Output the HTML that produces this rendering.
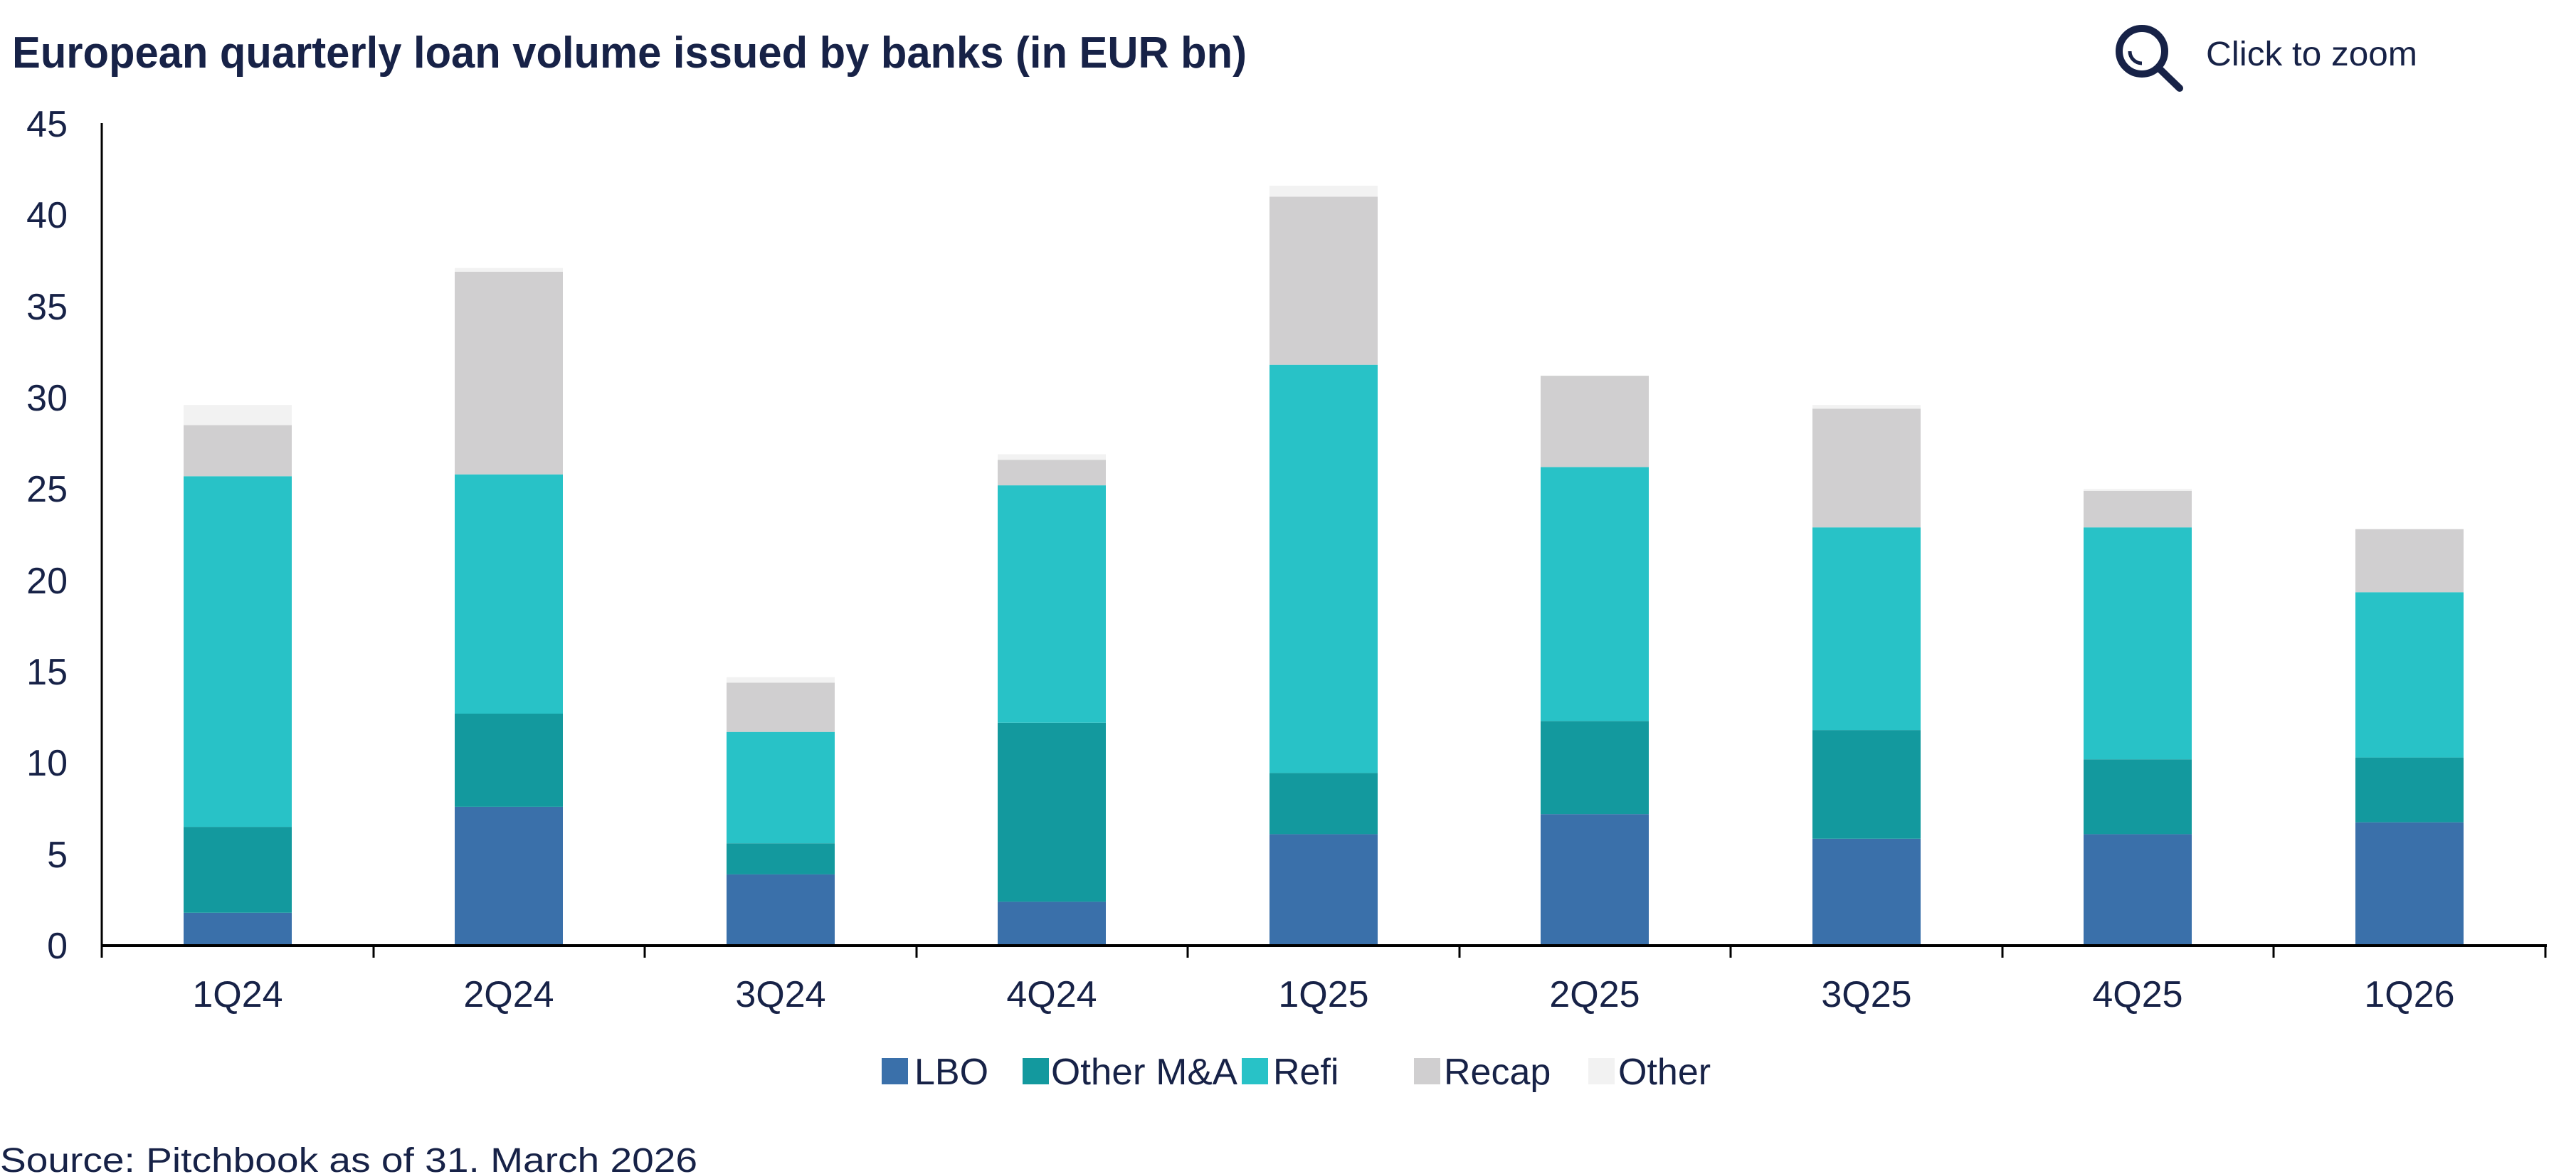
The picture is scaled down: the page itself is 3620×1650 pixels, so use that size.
<!DOCTYPE html>
<html><head><meta charset="utf-8"><style>
html,body{margin:0;padding:0;background:#fff;}
svg{display:block;font-family:"Liberation Sans",sans-serif;}
</style></head><body>
<svg width="3620" height="1650" viewBox="0 0 3620 1650" xmlns="http://www.w3.org/2000/svg">
<text x="17" y="95" font-size="62" font-weight="bold" fill="#172247" textLength="1735" lengthAdjust="spacingAndGlyphs">European quarterly loan volume issued by banks (in EUR bn)</text>
<g fill="none" stroke="#172247" stroke-width="10" stroke-linecap="round">
<circle cx="3010" cy="72" r="32"/>
<line x1="3035" y1="97" x2="3063" y2="124"/>
</g>
<path d="M2993 72 a17 17 0 0 0 17 17" fill="none" stroke="#172247" stroke-width="5"/>
<text x="3100" y="92" font-size="48" fill="#172247" textLength="297" lengthAdjust="spacingAndGlyphs">Click to zoom</text>
<g font-size="52" fill="#172247" text-anchor="end">
<text x="95" y="192">45</text><text x="95" y="320">40</text><text x="95" y="449">35</text>
<text x="95" y="577">30</text><text x="95" y="705">25</text><text x="95" y="834">20</text>
<text x="95" y="962">15</text><text x="95" y="1090">10</text><text x="95" y="1219">5</text>
<text x="95" y="1347">0</text>
</g>
<g>
<rect x="258" y="1282.8" width="152" height="46.2" fill="#3A70AA"/>
<rect x="258" y="1162.1" width="152" height="120.7" fill="#13999E"/>
<rect x="258" y="669.3" width="152" height="492.8" fill="#28C2C7"/>
<rect x="258" y="597.4" width="152" height="71.9" fill="#D0CFD0"/>
<rect x="258" y="569.2" width="152" height="28.2" fill="#F2F2F2"/>

<rect x="639" y="1133.9" width="152" height="195.1" fill="#3A70AA"/>
<rect x="639" y="1003.0" width="152" height="130.9" fill="#13999E"/>
<rect x="639" y="666.7" width="152" height="336.3" fill="#28C2C7"/>
<rect x="639" y="381.8" width="152" height="284.9" fill="#D0CFD0"/>
<rect x="639" y="376.6" width="152" height="5.2" fill="#F2F2F2"/>

<rect x="1021" y="1228.9" width="152" height="100.1" fill="#3A70AA"/>
<rect x="1021" y="1185.2" width="152" height="43.7" fill="#13999E"/>
<rect x="1021" y="1028.7" width="152" height="156.5" fill="#28C2C7"/>
<rect x="1021" y="959.4" width="152" height="69.3" fill="#D0CFD0"/>
<rect x="1021" y="951.7" width="152" height="7.7" fill="#F2F2F2"/>

<rect x="1402" y="1267.4" width="152" height="61.6" fill="#3A70AA"/>
<rect x="1402" y="1015.8" width="152" height="251.6" fill="#13999E"/>
<rect x="1402" y="682.1" width="152" height="333.7" fill="#28C2C7"/>
<rect x="1402" y="646.2" width="152" height="35.9" fill="#D0CFD0"/>
<rect x="1402" y="638.5" width="152" height="7.7" fill="#F2F2F2"/>

<rect x="1784" y="1172.4" width="152" height="156.6" fill="#3A70AA"/>
<rect x="1784" y="1086.4" width="152" height="86.0" fill="#13999E"/>
<rect x="1784" y="512.7" width="152" height="573.7" fill="#28C2C7"/>
<rect x="1784" y="276.5" width="152" height="236.2" fill="#D0CFD0"/>
<rect x="1784" y="261.1" width="152" height="15.4" fill="#F2F2F2"/>

<rect x="2165" y="1144.2" width="152" height="184.8" fill="#3A70AA"/>
<rect x="2165" y="1013.3" width="152" height="130.9" fill="#13999E"/>
<rect x="2165" y="656.4" width="152" height="356.9" fill="#28C2C7"/>
<rect x="2165" y="528.1" width="152" height="128.3" fill="#D0CFD0"/>

<rect x="2547" y="1178.8" width="152" height="150.2" fill="#3A70AA"/>
<rect x="2547" y="1026.1" width="152" height="152.7" fill="#13999E"/>
<rect x="2547" y="741.2" width="152" height="284.9" fill="#28C2C7"/>
<rect x="2547" y="574.3" width="152" height="166.9" fill="#D0CFD0"/>
<rect x="2547" y="569.2" width="152" height="5.1" fill="#F2F2F2"/>

<rect x="2928" y="1172.4" width="152" height="156.6" fill="#3A70AA"/>
<rect x="2928" y="1067.2" width="152" height="105.2" fill="#13999E"/>
<rect x="2928" y="741.2" width="152" height="326.0" fill="#28C2C7"/>
<rect x="2928" y="689.8" width="152" height="51.4" fill="#D0CFD0"/>
<rect x="2928" y="687.3" width="152" height="2.5" fill="#F2F2F2"/>

<rect x="3310" y="1155.7" width="152" height="173.3" fill="#3A70AA"/>
<rect x="3310" y="1064.6" width="152" height="91.1" fill="#13999E"/>
<rect x="3310" y="832.3" width="152" height="232.3" fill="#28C2C7"/>
<rect x="3310" y="743.7" width="152" height="88.6" fill="#D0CFD0"/>
</g>
<line x1="143" y1="173" x2="143" y2="1346" stroke="#000" stroke-width="3"/>
<line x1="142" y1="1329" x2="3579" y2="1329" stroke="#000" stroke-width="4"/>
<g stroke="#000" stroke-width="3">
<line x1="143" y1="1329" x2="143" y2="1346"/><line x1="525" y1="1329" x2="525" y2="1346"/>
<line x1="906" y1="1329" x2="906" y2="1346"/><line x1="1288" y1="1329" x2="1288" y2="1346"/>
<line x1="1669" y1="1329" x2="1669" y2="1346"/><line x1="2051" y1="1329" x2="2051" y2="1346"/>
<line x1="2432" y1="1329" x2="2432" y2="1346"/><line x1="2814" y1="1329" x2="2814" y2="1346"/>
<line x1="3195" y1="1329" x2="3195" y2="1346"/><line x1="3577" y1="1329" x2="3577" y2="1346"/>
</g>
<g font-size="52" fill="#172247" text-anchor="middle">
<text x="334" y="1415">1Q24</text><text x="715" y="1415">2Q24</text><text x="1097" y="1415">3Q24</text>
<text x="1478" y="1415">4Q24</text><text x="1860" y="1415">1Q25</text><text x="2241" y="1415">2Q25</text>
<text x="2623" y="1415">3Q25</text><text x="3004" y="1415">4Q25</text><text x="3386" y="1415">1Q26</text>
</g>
<g font-size="52" fill="#172247">
<rect x="1239" y="1487" width="37" height="37" fill="#3A70AA"/><text x="1285" y="1524">LBO</text>
<rect x="1437" y="1487" width="37" height="37" fill="#13999E"/><text x="1477" y="1524" textLength="262" lengthAdjust="spacingAndGlyphs">Other M&amp;A</text>
<rect x="1745" y="1487" width="37" height="37" fill="#28C2C7"/><text x="1789" y="1524">Refi</text>
<rect x="1987" y="1487" width="37" height="37" fill="#D0CFD0"/><text x="2029" y="1524">Recap</text>
<rect x="2232" y="1487" width="37" height="37" fill="#F2F2F2"/><text x="2274" y="1524">Other</text>
</g>
<text x="0" y="1647" font-size="48" fill="#172247" textLength="980" lengthAdjust="spacingAndGlyphs">Source: Pitchbook as of 31. March 2026</text>
</svg>
</body></html>
